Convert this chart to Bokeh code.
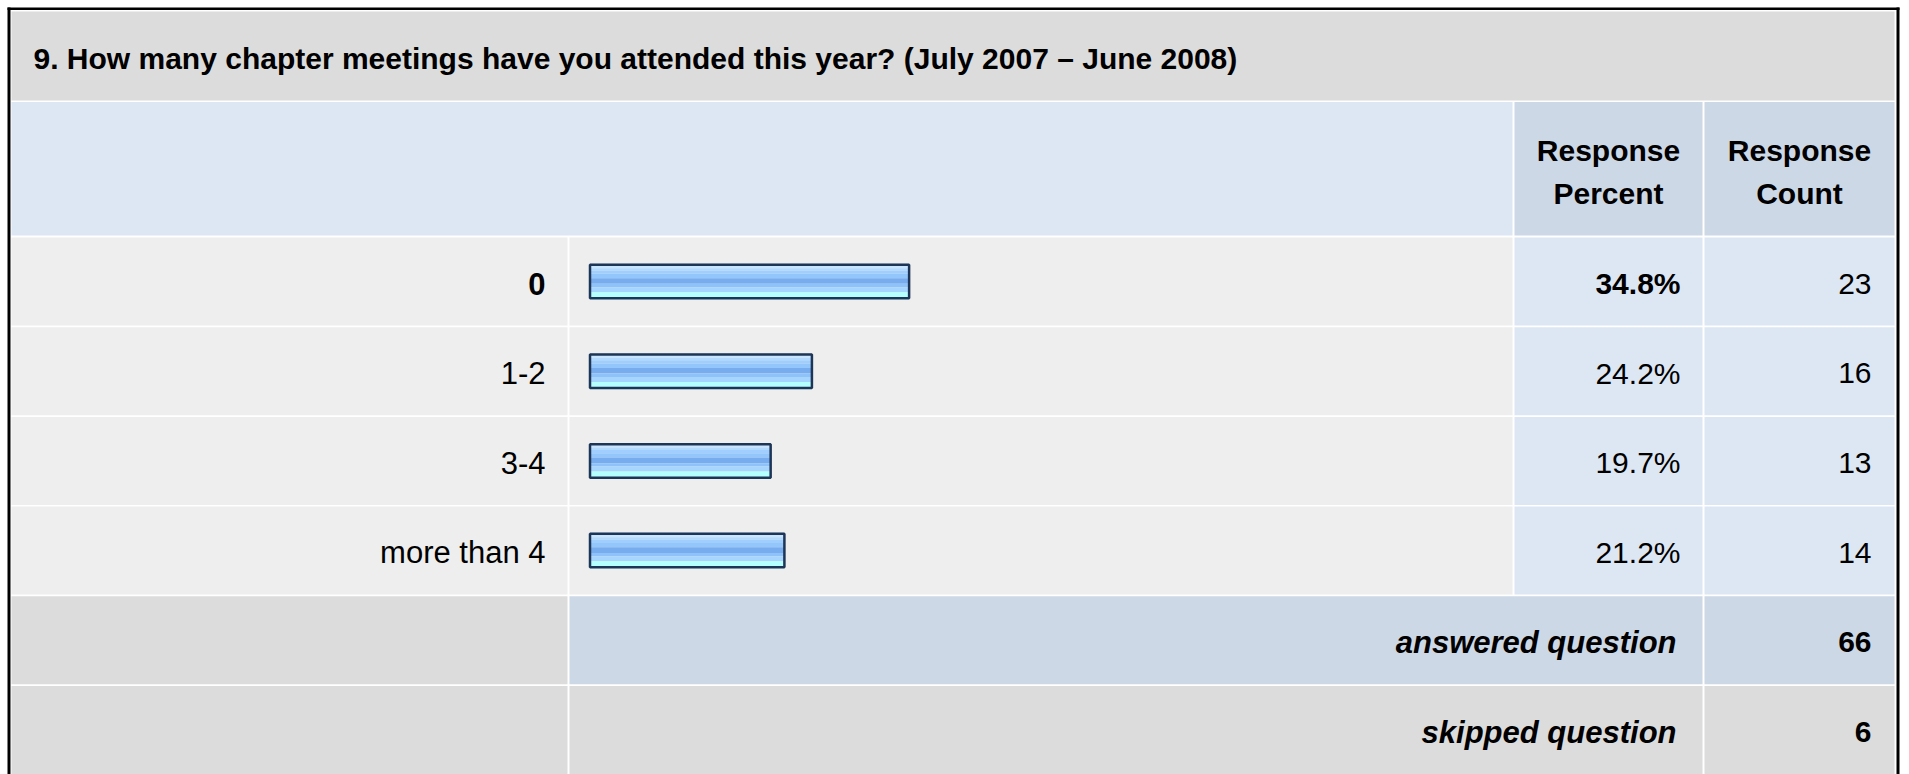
from bokeh.plotting import figure
from bokeh.models import ColumnDataSource, Range1d
from bokeh.embed import file_html
from bokeh.resources import INLINE
from bokeh.core.properties import value

# ---------------- data ----------------
title_text = "9. How many chapter meetings have you attended this year? (July 2007 \u2013 June 2008)"
categories = ["0", "1-2", "3-4", "more than 4"]
percents = [34.8, 24.2, 19.7, 21.2]
counts = [23, 16, 13, 14]
answered_label = "answered question"
skipped_label = "skipped question"
answered_count = 66
skipped_count = 6
header_percent = ["Response", "Percent"]
header_count = ["Response", "Count"]

# ---------------- layout (page pixels) ----------------
W, H = 1909, 774
X0, Y0 = 0, 0
FONT = value("Liberation Sans")
FS = "30px"
FS_LBL = "31px"

GRAY = "#DCDCDC"
LIGHT = "#EEEEEE"
BLUE_L = "#DDE7F4"
BLUE_M = "#CDD8E6"
NAVY = "#1D3557"

colA = (11, 567)
colB = (569, 1512)
colC = (1514, 1702)
colD = (1704, 1894)
title_row = (11, 100)
header_row = (101.5, 235)
ROW_TOP0 = 237
ROW_PITCH = 89.7
ROW_H = 88

BAR_X0 = 589.5          # where 0 % sits
PX_PER_PCT = 9.17       # pixels per percent

p = figure(width=W, height=H,
           x_range=Range1d(X0, X0 + W), y_range=Range1d(Y0 + H, Y0),
           output_backend="svg", toolbar_location=None,
           x_axis_location=None, y_axis_location=None, min_border=0)
p.outline_line_color = None
p.grid.visible = False
p.background_fill_color = "white"
p.border_fill_color = "white"
p.extra_x_ranges = {"pct": Range1d(start=(X0 - BAR_X0) / PX_PER_PCT,
                                   end=(X0 + W - BAR_X0) / PX_PER_PCT)}

# ---------------- cells ----------------
L, R, T, B, C = [], [], [], [], []
def cell(xs, ys, color):
    L.append(xs[0]); R.append(xs[1]); T.append(ys[0]); B.append(ys[1]); C.append(color)

# outer border
cell((7, 10), (7, Y0 + H), "black")
cell((7, 1899), (7, 9.5), "black")
cell((1896, 1899), (7, Y0 + H), "black")

cell((colA[0], colD[1]), title_row, GRAY)
cell((colA[0], colB[1]), header_row, BLUE_L)
cell(colC, header_row, BLUE_M)
cell(colD, header_row, BLUE_M)

row_tops = [ROW_TOP0 + i * ROW_PITCH for i in range(len(categories) + 2)]
for i in range(len(categories)):
    ys = (row_tops[i], row_tops[i] + ROW_H)
    cell(colA, ys, LIGHT)
    cell(colB, ys, LIGHT)
    cell(colC, ys, BLUE_L)
    cell(colD, ys, BLUE_L)
ya = (row_tops[4], row_tops[4] + ROW_H)
cell(colA, ya, GRAY)
cell((colB[0], colC[1]), ya, BLUE_M)
cell(colD, ya, BLUE_M)
ys_ = (row_tops[5], Y0 + H)
cell(colA, ys_, GRAY)
cell((colB[0], colC[1]), ys_, GRAY)
cell(colD, ys_, GRAY)

p.quad(left=L, right=R, top=T, bottom=B, fill_color=C, line_color=None)

# ---------------- bars ----------------
centers = [row_tops[i] + ROW_H / 2 for i in range(len(categories) + 2)]
bar_centers = centers[:len(categories)]
stripes = [(-18, -13.3, "#C9E4FF"), (-13.3, -11, "#B2D9FF"), (-11, -7.7, "#A0CFFF"),
           (-7.7, -3.3, "#93C6FB"), (-3.3, 2.3, "#77ADEF"), (2.3, 5.7, "#8EC2F8"),
           (5.7, 10.7, "#A6D6FF"), (10.7, 18, "#B4FFFF")]
zeros = [0] * len(percents)
for (t0, t1, col) in stripes:
    p.quad(left=zeros, right=percents, top=[c + t0 for c in bar_centers],
           bottom=[c + t1 for c in bar_centers],
           fill_color=col, line_color=None, x_range_name="pct")
p.quad(left=zeros, right=percents, top=[c - 16.75 for c in bar_centers],
       bottom=[c + 16.75 for c in bar_centers],
       fill_color=None, line_color=NAVY, line_width=2.5, x_range_name="pct")

# ---------------- texts ----------------
DY = 2
top_pct = max(percents)
styles = ["bold" if v == top_pct else "normal" for v in percents]
txt = ColumnDataSource(dict(
    cat=categories,
    pct=["%.1f%%" % v for v in percents],
    cnt=[str(c) for c in counts],
    y=[c + DY for c in bar_centers],
    style=styles,
))
p.text(x=545, y="y", text="cat", source=txt, text_font=FONT, text_font_size=FS_LBL,
       text_font_style="style", text_align="right", text_baseline="middle", text_color="black")
p.text(x=1680, y="y", text="pct", source=txt, text_font=FONT, text_font_size=FS,
       text_font_style="style", text_align="right", text_baseline="middle", text_color="black")
p.text(x=1871, y="y", text="cnt", source=txt, text_font=FONT, text_font_size=FS,
       text_align="right", text_baseline="middle", text_color="black")

p.text(x=[33], y=[(title_row[0] + title_row[1]) / 2 + DY], text=[title_text], text_font=FONT,
       text_font_size=FS, text_font_style="bold", text_align="left", text_baseline="middle",
       text_color="black")

hx = [(colC[0] + colC[1]) / 2] * 2 + [(colD[0] + colD[1]) / 2] * 2
hy = [149.5, 192.5, 149.5, 192.5]
p.text(x=hx, y=hy, text=header_percent + header_count, text_font=FONT, text_font_size=FS,
       text_font_style="bold", text_align="center", text_baseline="middle", text_color="black")

p.text(x=[1676, 1676], y=[centers[4] + DY, 731.5], text=[answered_label, skipped_label],
       text_font=FONT, text_font_size=FS_LBL, text_font_style="bold italic",
       text_align="right", text_baseline="middle", text_color="black")
p.text(x=[1871, 1871], y=[centers[4] + DY, 731.5], text=[str(answered_count), str(skipped_count)],
       text_font=FONT, text_font_size=FS, text_font_style="bold",
       text_align="right", text_baseline="middle", text_color="black")

open("out.html", "w").write(file_html(p, INLINE))
